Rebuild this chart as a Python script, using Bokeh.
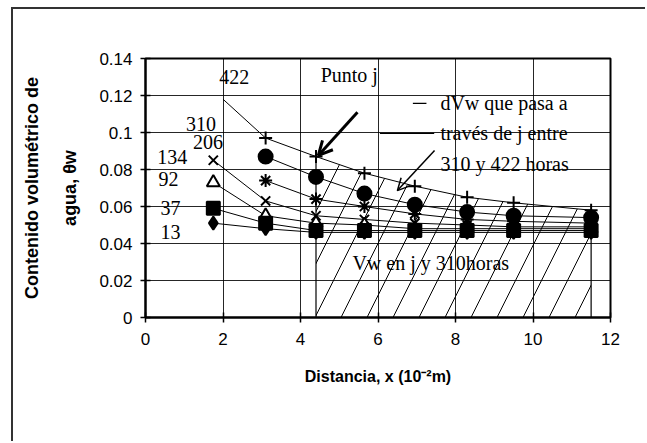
import math
from bokeh.plotting import figure
from bokeh.models import (Label, Arrow, OpenHead, FixedTicker, CustomJSTickFormatter, Range1d)
from bokeh.embed import file_html
from bokeh.resources import INLINE

nan = float("nan")

# ---- data ----
distance = [1.75, 3.1, 4.4, 5.65, 6.95, 8.3, 9.5, 11.5]
hours = ["422", "310", "206", "134", "92", "37", "13"]
theta_422 = [nan, 0.097, 0.087, 0.078, 0.071, 0.065, 0.062, 0.058]
theta_310 = [nan, 0.087, 0.076, 0.067, 0.061, 0.057, 0.055, 0.054]
theta_206 = [nan, 0.074, 0.064, 0.060, 0.056, 0.053, 0.052, 0.051]
theta_134 = [0.085, 0.063, 0.055, 0.053, 0.051, 0.050, 0.049, 0.049]
theta_92 = [0.073, 0.055, 0.051, 0.050, 0.048, 0.048, 0.048, 0.048]
theta_37 = [0.059, 0.051, 0.047, 0.047, 0.047, 0.047, 0.047, 0.047]
theta_13 = [0.051, 0.048, 0.046, 0.046, 0.046, 0.046, 0.046, 0.046]
curve_422_start_x = 2.0
curve_422_start_y = 0.118
x_ticks = [0, 2, 4, 6, 8, 10, 12]
y_ticks = [0, 0.02, 0.04, 0.06, 0.08, 0.10, 0.12, 0.14]

series = [theta_422, theta_310, theta_206, theta_134, theta_92, theta_37, theta_13]
markers = ["cross", "circle", "asterisk", "x", "triangle", "square", "diamond"]
fills = ["black", "black", "black", "black", "white", "black", "black"]

SERIF = "Liberation Serif"
SANS = "Liberation Sans"

p = figure(width=634, height=434, output_backend="svg", toolbar_location=None,
           x_range=Range1d(0, 12), y_range=Range1d(0, 0.14),
           min_border_left=132, min_border_right=37, min_border_top=49,
           min_border_bottom=126)
p.margin = (7, 0, 0, 11)
p.styles = {"border-top": "2px solid #333", "border-left": "2px solid #333"}
p.background_fill_color = "white"
p.border_fill_color = "white"
p.outline_line_color = "black"
p.outline_line_width = 2

for ax in (p.xaxis[0], p.yaxis[0]):
    ax.axis_line_width = 2
    ax.axis_line_color = "black"
    ax.major_tick_in = 5
    ax.major_tick_out = 5
    ax.major_tick_line_color = "black"
    ax.major_tick_line_width = 1.5
    ax.minor_tick_line_color = None
    ax.major_label_text_font = SANS
    ax.major_label_text_font_size = "17px"
    ax.major_label_text_color = "black"
    ax.axis_label_text_font = SANS
    ax.axis_label_text_font_style = "bold"
    ax.axis_label_text_color = "black"
p.xaxis.ticker = FixedTicker(ticks=x_ticks)
p.yaxis.ticker = FixedTicker(ticks=y_ticks)
p.yaxis.formatter = CustomJSTickFormatter(
    code="var s = tick.toFixed(2); s = s.replace(/0+$/, ''); return s.replace(/\\.$/, '');")
p.xaxis.major_label_standoff = 10
p.yaxis.major_label_standoff = 8

p.xaxis.axis_label = "Distancia, x (10⁻²m)"
p.xaxis.axis_label_text_font_size = "16px"
p.xaxis.axis_label_standoff = 20
p.yaxis.axis_label = "Contenido volumétrico de\nagua, θw"
p.yaxis.axis_label_text_font_size = "18px"
p.yaxis.axis_label_text_line_height = 1.9
p.yaxis.axis_label_standoff = 16

p.xgrid.ticker = FixedTicker(ticks=x_ticks)
p.ygrid.ticker = FixedTicker(ticks=y_ticks)
p.xgrid.grid_line_color = "black"
p.ygrid.grid_line_color = "black"
p.xgrid.grid_line_width = 1
p.ygrid.grid_line_width = 1
p.xgrid.grid_line_alpha = 0.85
p.ygrid.grid_line_alpha = 0.85

# hatched region (water through point j)
hx = distance[2:] + [distance[-1], distance[2]]
hy = theta_422[2:] + [0, 0]
p.patch(hx, hy, fill_color=None, line_color=None, hatch_pattern="/",
        hatch_color="black", hatch_scale=52, hatch_weight=1)
p.segment(x0=[distance[2], distance[-1]], y0=[0, 0],
          x1=[distance[2], distance[-1]], y1=[theta_422[2], theta_310[-1]],
          line_color="black", line_width=1.2)

# curves
for ys, mk, fc in zip(series, markers, fills):
    p.line(distance, ys, line_color="black", line_width=1)
    sz = 13 if mk != "circle" else 14
    p.scatter(distance, ys, marker=mk, size=sz, fill_color=fc, line_color="black",
              line_width=2)
p.line([curve_422_start_x, distance[1]], [curve_422_start_y, theta_422[1]],
       line_color="black", line_width=1)

# series labels
lab_pos = [(1.9, 0.130, "left"), (1.82, 0.1045, "right"), (2.0, 0.095, "right"),
           (1.08, 0.0865, "right"), (0.85, 0.075, "right"), (0.9, 0.059, "right"),
           (0.9, 0.046, "right")]
for h, (lx, ly, al) in zip(hours, lab_pos):
    p.add_layout(Label(x=lx, y=ly, text=h, text_font=SERIF, text_font_size="20px",
                       text_align=al, text_baseline="middle", text_color="black"))

for txt, lx, ly in [("Punto j", 4.52, 0.131), ("dVw que pasa a", 7.61, 0.1157),
                    ("través de j entre", 7.61, 0.0995), ("310 y 422 horas", 7.61, 0.0832),
                    ("Vw en j y 310horas", 5.34, 0.0297)]:
    p.add_layout(Label(x=lx, y=ly, text=txt, text_font=SERIF, text_font_size="20px",
                       text_align="left", text_baseline="middle", text_color="black"))

p.add_layout(Arrow(end=OpenHead(size=14, line_width=3), x_start=5.47, y_start=0.111,
                   x_end=4.46, y_end=0.0876, line_width=3))
p.add_layout(Arrow(end=OpenHead(size=12, line_width=1.5), x_start=7.46, y_start=0.0903,
                   x_end=6.5, y_end=0.0686, line_width=1.5))
p.add_layout(Arrow(end=None, x_start=6.9, y_start=0.1157, x_end=7.25, y_end=0.1157,
                   line_width=1.2))
p.add_layout(Arrow(end=None, x_start=6.05, y_start=0.0995, x_end=7.45, y_end=0.0995,
                   line_width=1.2))

open("out.html", "w").write(file_html(p, INLINE))
